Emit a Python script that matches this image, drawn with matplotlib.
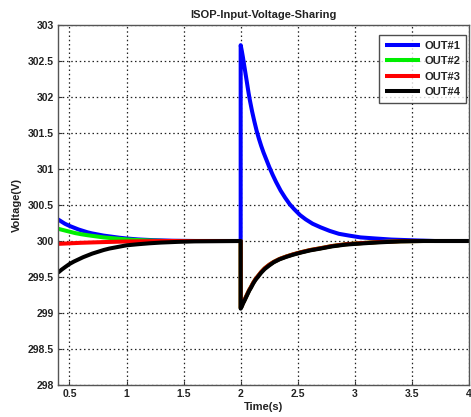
import matplotlib
matplotlib.use("Agg")
import matplotlib.pyplot as plt

plt.rcParams['font.family'] = ['Liberation Sans', 'DejaVu Sans']

title = "ISOP-Input-Voltage-Sharing"
xlabel = "Time(s)"
ylabel = "Voltage(V)"
labels = ["OUT#1", "OUT#2", "OUT#3", "OUT#4"]
colors = ["#0000ff", "#00ee00", "#ff0000", "#000000"]

x_ticks = [0.5, 1, 1.5, 2, 2.5, 3, 3.5, 4]
x_tick_labels = ["0.5", "1", "1.5", "2", "2.5", "3", "3.5", "4"]
y_ticks = [298, 298.5, 299, 299.5, 300, 300.5, 301, 301.5, 302, 302.5, 303]
y_tick_labels = ["298", "298.5", "299", "299.5", "300", "300.5", "301", "301.5", "302", "302.5", "303"]

# OUT#1
t1 = [0.4, 0.43, 0.46, 0.5, 0.54, 0.58, 0.62, 0.66, 0.7, 0.75, 0.8, 0.87, 0.94, 1.0, 1.1, 1.23, 1.4, 1.6, 2.0,
      2.0, 2.01, 2.02, 2.03, 2.04, 2.05, 2.06, 2.07, 2.08, 2.09, 2.10, 2.12, 2.14, 2.16, 2.18, 2.20, 2.22,
      2.25, 2.28, 2.31, 2.35, 2.39, 2.43, 2.47, 2.52, 2.57, 2.63, 2.70, 2.78, 2.86, 2.95, 3.05, 3.18, 3.32,
      3.5, 3.7, 4.0]
v1 = [300.30, 300.27, 300.24, 300.21, 300.185, 300.16, 300.14, 300.12, 300.105, 300.09, 300.075, 300.06,
      300.045, 300.035, 300.022, 300.012, 300.004, 300.0, 300.0,
      302.72, 302.64, 302.55, 302.45, 302.35, 302.25, 302.15, 302.05, 301.96, 301.88, 301.80, 301.66, 301.53,
      301.42, 301.32, 301.23, 301.15, 301.03, 300.92, 300.82, 300.70, 300.60, 300.51, 300.44, 300.36, 300.30,
      300.24, 300.19, 300.14, 300.10, 300.075, 300.05, 300.035, 300.02, 300.01, 300.0, 300.0]

# OUT#2
t2 = [0.4, 0.45, 0.5, 0.55, 0.6, 0.66, 0.73, 0.8, 0.87, 0.94, 1.0, 1.1, 1.2, 1.35, 2.0,
      2.0, 2.01, 2.02, 2.03, 2.045, 2.06, 2.075, 2.09, 2.11, 2.13, 2.15, 2.18, 2.21, 2.25, 2.29, 2.34,
      2.40, 2.46, 2.53, 2.61, 2.70, 2.80, 2.92, 3.05, 3.2, 3.4, 3.6, 4.0]
v2 = [300.17, 300.15, 300.13, 300.11, 300.095, 300.08, 300.065, 300.05, 300.04, 300.03, 300.022, 300.013,
      300.007, 300.0, 300.0,
      299.07, 299.10, 299.14, 299.17, 299.22, 299.27, 299.32, 299.36, 299.42, 299.47, 299.51, 299.57, 299.62,
      299.67, 299.71, 299.75, 299.785, 299.815, 299.845, 299.875, 299.90, 299.93, 299.955, 299.97, 299.985,
      299.997, 300.0, 300.0]

# OUT#3
t3 = [0.4, 0.6, 0.8, 1.0, 1.3, 2.0,
      2.0, 2.01, 2.02, 2.03, 2.045, 2.06, 2.075, 2.09, 2.11, 2.13, 2.15, 2.18, 2.21, 2.25, 2.29, 2.34,
      2.40, 2.46, 2.53, 2.61, 2.70, 2.80, 2.92, 3.05, 3.2, 3.4, 3.6, 4.0]
v3 = [299.96, 299.975, 299.985, 299.993, 300.0, 300.0,
      299.07, 299.10, 299.14, 299.17, 299.22, 299.27, 299.32, 299.36, 299.42, 299.47, 299.51, 299.57, 299.62,
      299.67, 299.71, 299.75, 299.785, 299.815, 299.845, 299.875, 299.90, 299.93, 299.955, 299.97, 299.985,
      299.997, 300.0, 300.0]

# OUT#4
t4 = [0.4, 0.43, 0.46, 0.5, 0.54, 0.58, 0.62, 0.66, 0.7, 0.75, 0.8, 0.85, 0.9, 0.95, 1.0, 1.1, 1.2, 1.3,
      1.45, 1.6, 2.0,
      2.0, 2.01, 2.02, 2.03, 2.045, 2.06, 2.075, 2.09, 2.11, 2.13, 2.15, 2.18, 2.21, 2.25, 2.29, 2.34,
      2.40, 2.46, 2.53, 2.61, 2.70, 2.80, 2.92, 3.05, 3.2, 3.4, 3.6, 4.0]
v4 = [299.56, 299.60, 299.635, 299.68, 299.715, 299.745, 299.775, 299.80, 299.825, 299.85, 299.875, 299.895,
      299.91, 299.925, 299.94, 299.955, 299.968, 299.978, 299.988, 299.995, 300.0,
      299.06, 299.09, 299.13, 299.16, 299.21, 299.26, 299.31, 299.35, 299.41, 299.46, 299.50, 299.56, 299.61,
      299.66, 299.705, 299.745, 299.78, 299.81, 299.84, 299.87, 299.895, 299.925, 299.95, 299.965, 299.98,
      299.995, 300.0, 300.0]

series_t = [t1, t2, t3, t4]
series_v = [v1, v2, v3, v4]

fig = plt.figure(figsize=(4.71, 4.17), dpi=100)
ax = fig.add_axes([58/471, 1 - 385/417, (469 - 58)/471, (385 - 25)/417])

for t, v, c, lab in zip(series_t, series_v, colors, labels):
    ax.plot(t, v, color=c, lw=2.9, label=lab, solid_joinstyle='round', solid_capstyle='butt')

ax.set_xlim(0.4, 4.0)
ax.set_ylim(298, 303)
ax.set_xticks(x_ticks)
ax.set_xticklabels(x_tick_labels)
ax.set_yticks(y_ticks)
ax.set_yticklabels(y_tick_labels)
ax.tick_params(direction='in', length=3, width=0.8, labelsize=7.5, pad=3, colors='#333333')
for lab in ax.get_xticklabels() + ax.get_yticklabels():
    lab.set_fontweight('bold')
    lab.set_color('#222222')
ax.grid(True, color='#222222', linestyle=(0, (1.2, 2.2)), linewidth=0.9)
for s in ax.spines.values():
    s.set_color('#555555')
    s.set_linewidth(1.0)

ax.set_title(title, fontsize=8, fontweight='bold', pad=5, color='#222222')
ax.set_xlabel(xlabel, fontsize=8, fontweight='bold', labelpad=2, color='#222222')
ax.set_ylabel(ylabel, fontsize=8, fontweight='bold', labelpad=4, color='#222222')

leg = ax.legend(loc='upper right', bbox_to_anchor=(0.993, 0.972), fontsize=8,
                frameon=True, fancybox=False, edgecolor='#222222', handlelength=3.2,
                handletextpad=0.4, labelspacing=0.5, borderpad=0.5, borderaxespad=0)
leg.get_frame().set_linewidth(1.0)
for txt in leg.get_texts():
    txt.set_fontweight('bold')
    txt.set_color('#222222')

fig.savefig("out.png", dpi=100)
